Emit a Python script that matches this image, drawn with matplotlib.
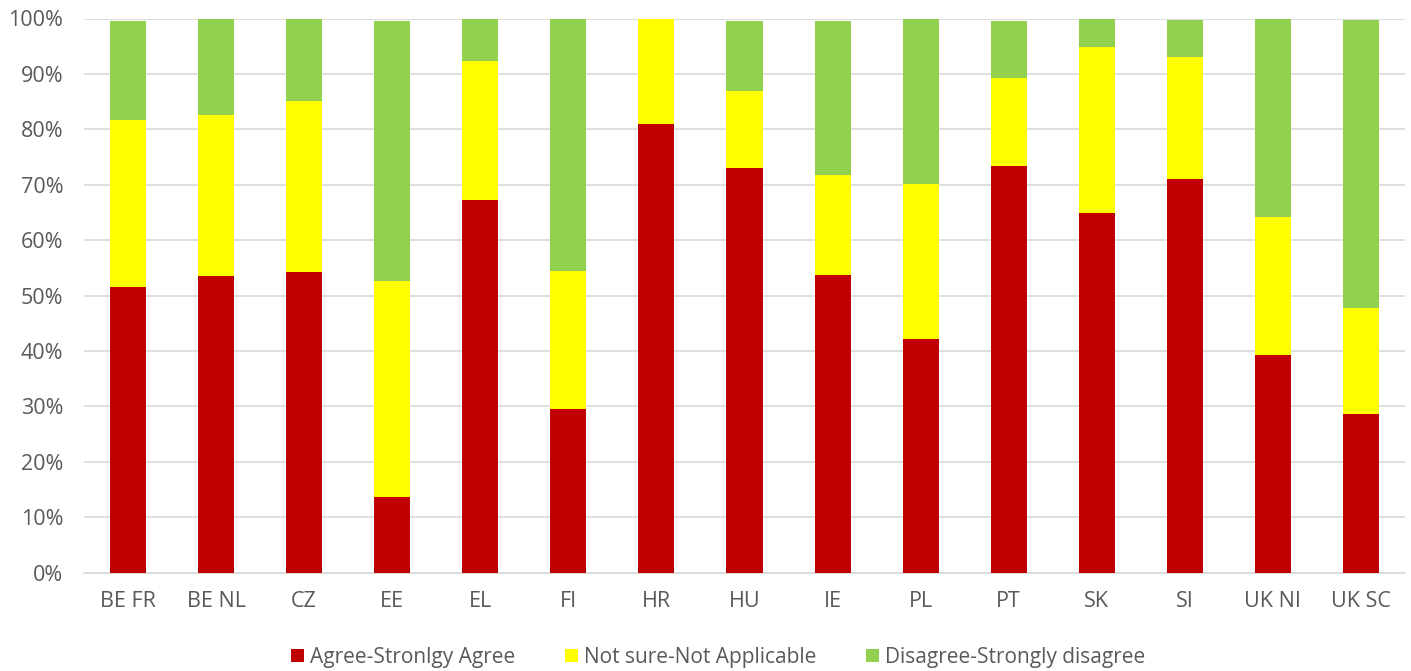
import matplotlib.pyplot as plt
import numpy as np
from matplotlib.ticker import PercentFormatter

countries = ["BE FR", "BE NL", "CZ", "EE", "EL", "FI", "HR", "HU",
             "IE", "PL", "PT", "SK", "SI", "UK NI", "UK SC"]

agree = [51.5, 53.6, 54.2, 13.6, 67.3, 29.5, 80.9, 73.1,
         53.7, 42.2, 73.4, 64.9, 71.0, 39.2, 28.7]
not_sure = [30.1, 29.0, 31.0, 39.0, 25.0, 25.0, 19.1, 13.9,
            18.0, 28.0, 15.9, 30.0, 22.0, 25.0, 19.1]
disagree = [17.9, 17.4, 14.8, 46.9, 7.7, 45.5, 0.0, 12.5,
            27.8, 29.8, 10.2, 5.1, 6.7, 35.8, 51.9]

series_names = ["Agree-Stronlgy Agree", "Not sure-Not Applicable",
                "Disagree-Strongly disagree"]
colors = ["#C00000", "#FFFF00", "#92D050"]

plt.rcParams['font.family'] = ['Open Sans', 'DejaVu Sans']
text_color = "#595959"

fig = plt.figure(figsize=(14.11, 6.71), dpi=100)
ax = fig.add_axes([84 / 1411, 1 - 572.7 / 671, (1405 - 84) / 1411, (572.7 - 18.5) / 671])

x = np.arange(len(countries))
bottom = np.zeros(len(countries))
for vals, name, col in zip([agree, not_sure, disagree], series_names, colors):
    ax.bar(x, vals, width=0.41, bottom=bottom, color=col, label=name, zorder=3)
    bottom += np.array(vals)

ax.set_xlim(-0.5, len(countries) - 0.5)
ax.set_ylim(0, 100)
ax.set_yticks(np.arange(0, 101, 10))
ax.yaxis.set_major_formatter(PercentFormatter(decimals=0))
ax.set_xticks(x)
ax.set_xticklabels(countries)
ax.grid(axis='y', color="#D9D9D9", linewidth=1.2, zorder=0)
for s in ["top", "right", "left"]:
    ax.spines[s].set_visible(False)
ax.spines["bottom"].set_color("#D9D9D9")
ax.spines["bottom"].set_linewidth(1.2)
ax.tick_params(axis='both', length=0, labelsize=15.5, labelcolor=text_color)
ax.tick_params(axis='x', pad=13)
ax.tick_params(axis='y', pad=15)

# legend sits a bit left of the plot centre, as in the original
ax.legend(loc='lower center', bbox_to_anchor=(0.48, -0.205), ncol=3, frameon=False,
          fontsize=15, labelcolor=text_color, handlelength=0.6, handleheight=0.6,
          handletextpad=0.3, columnspacing=2.4)

fig.savefig("out.png", dpi=100)
